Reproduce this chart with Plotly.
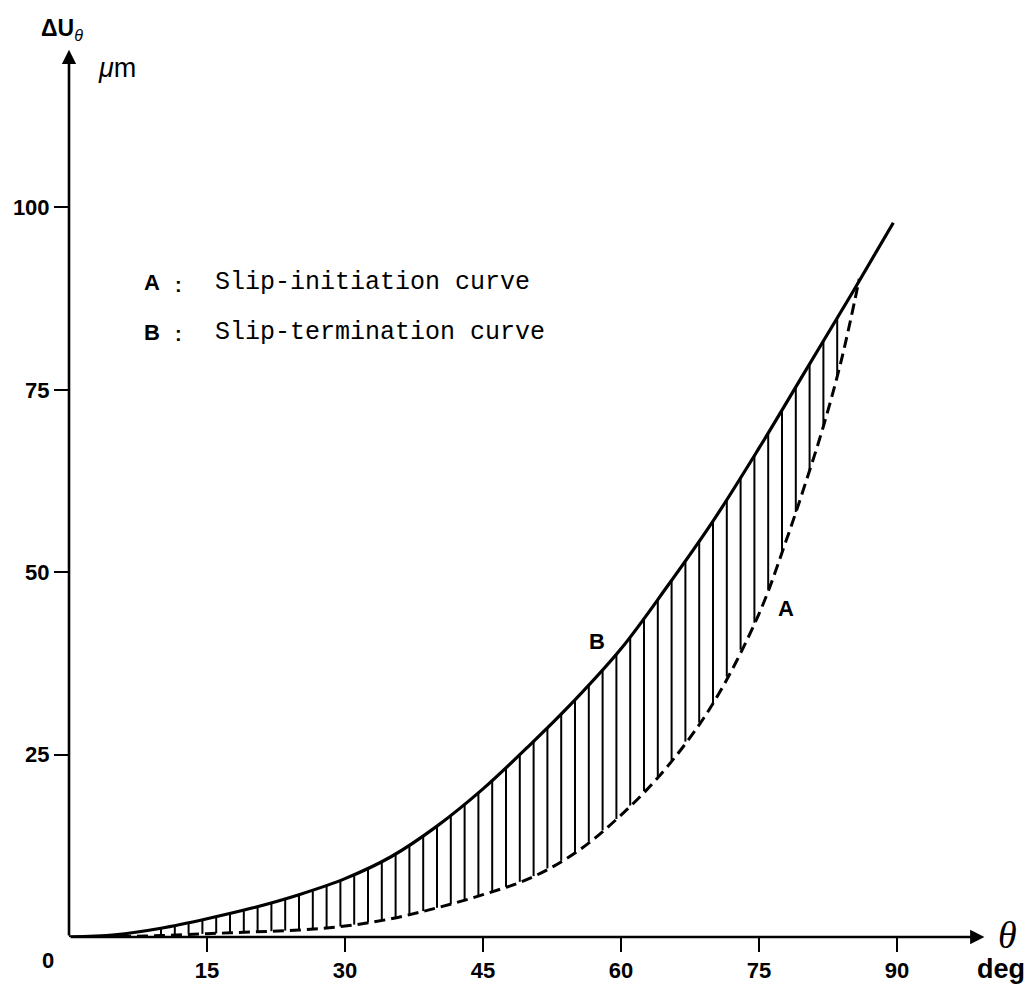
import numpy as np
import plotly.graph_objects as go

# ---------------- data ----------------
theta_B = [0, 5, 10, 15, 20, 25, 30, 35, 40, 45, 50, 55, 60, 65, 70, 75, 80, 85, 89.6]
dU_B = [0, 0.3, 1.2, 2.5, 4.0, 5.8, 8.0, 11.0, 15.2, 20.3, 26.2, 32.5, 39.5,
        48.0, 57.0, 67.0, 77.5, 88.0, 97.9]

theta_A = [0, 5, 10, 15, 20, 25, 30, 35, 40, 45, 50, 55, 60, 65, 70, 75, 78,
           80, 82, 84, 85.9]
dU_A = [0, 0.05, 0.2, 0.45, 0.7, 0.95, 1.5, 2.5, 4.0, 5.8, 8.0, 11.5, 16.7,
        23.3, 32.0, 44.3, 54.5, 62.0, 70.0, 79.3, 90.2]

hatch_theta = [10 + 1.5 * k for k in range(50)]

x_ticks = [15, 30, 45, 60, 75, 90]
x_ticktext = ["15", "30", "45", "60", "75", "90"]
y_ticks = [25, 50, 75, 100]
y_ticktext = ["25", "50", "75", "100"]

X_MAX, Y_MAX = 100, 125
X_ARROW, Y_ARROW = 99.5, 121.6

# ---------------- layout geometry ----------------
W, H = 1035, 995
ML, MR, MT, MB = 69, 46, 25, 53
PW, PH = W - ML - MR, H - MT - MB


def px(xp):
    return (xp - ML) / PW


def py(yp):
    return (H - MB - yp) / PH


fig = go.Figure()

# hatch lines between the two curves
hx, hy = [], []
for t in hatch_theta:
    hx += [t, t, None]
    hy += [float(np.interp(t, theta_B, dU_B)), float(np.interp(t, theta_A, dU_A)), None]
fig.add_trace(go.Scatter(x=hx, y=hy, mode="lines",
                         line=dict(color="black", width=2),
                         hoverinfo="skip", showlegend=False))

# curve A (dashed)
fig.add_trace(go.Scatter(x=theta_A, y=dU_A, mode="lines",
                         line=dict(color="black", width=3, dash="11px,6px", shape="spline", smoothing=1.0),
                         showlegend=False, name="A"))
# curve B (solid)
fig.add_trace(go.Scatter(x=theta_B, y=dU_B, mode="lines",
                         line=dict(color="black", width=3.2, shape="spline", smoothing=1.0),
                         showlegend=False, name="B"))

tickfont = dict(family="Liberation Sans", size=22, color="black", weight="bold")
fig.update_xaxes(range=[0, X_MAX], showgrid=False, zeroline=False, showline=False,
                 tickvals=x_ticks, ticktext=x_ticktext, ticks="outside",
                 ticklen=14, tickwidth=2, tickcolor="black", tickfont=tickfont)
fig.update_yaxes(range=[0, Y_MAX], showgrid=False, zeroline=False, showline=False,
                 tickvals=y_ticks, ticktext=y_ticktext, ticks="outside",
                 ticklen=14, tickwidth=2, tickcolor="black", tickfont=tickfont)

ann = []
# axis arrows
ann.append(dict(x=X_ARROW, y=0, ax=0, ay=0, xref="x", yref="y", axref="x", ayref="y",
                text="", showarrow=True, arrowhead=2, arrowsize=1.1, arrowwidth=2.6,
                arrowcolor="black", standoff=0, startstandoff=0))
ann.append(dict(x=0, y=Y_ARROW, ax=0, ay=0, xref="x", yref="y", axref="x", ayref="y",
                text="", showarrow=True, arrowhead=2, arrowsize=1.1, arrowwidth=2.6,
                arrowcolor="black", standoff=0, startstandoff=0))


def label(text, x, y, size, family="Liberation Sans", xanchor="center"):
    ann.append(dict(x=px(x), y=py(y), xref="paper", yref="paper", text=text,
                    showarrow=False, xanchor=xanchor, yanchor="middle",
                    font=dict(family=family, size=size, color="black")))


label("<b>0</b>", 48, 966, 22)
label("<b>ΔU</b><sub><i>θ</i></sub>", 62, 30, 23)
label("<i>μ</i>m", 117, 68, 27)
label("<i>θ</i>", 1008, 940, 38, family="Liberation Serif")
label("<b>deg</b>", 1001, 974, 27)

label("<b>A</b>", 152, 284, 22)
label("<b>:</b>", 178, 286, 20)
label("Slip-initiation curve", 213, 284, 25, family="Liberation Mono", xanchor="left")
label("<b>B</b>", 152, 334, 22)
label("<b>:</b>", 178, 336, 20)
label("Slip-termination curve", 213, 334, 25, family="Liberation Mono", xanchor="left")

label("<b>B</b>", 597, 645, 22)
label("<b>A</b>", 786, 612, 22)

fig.update_layout(width=W, height=H, margin=dict(l=ML, r=MR, t=MT, b=MB, pad=0),
                  paper_bgcolor="white", plot_bgcolor="white",
                  annotations=ann, showlegend=False)

fig.write_html("out.html")
